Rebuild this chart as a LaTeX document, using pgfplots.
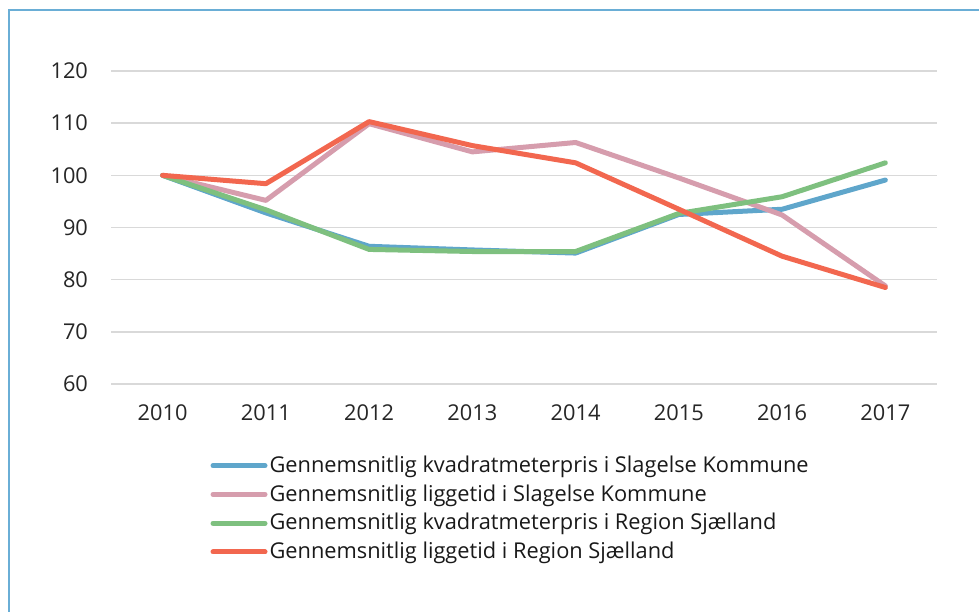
\documentclass[border=0pt]{standalone}
\usepackage{pgfplots}
\pgfplotsset{compat=1.18}
\usepackage{fontspec}
\setmainfont{Open Sans}

\definecolor{cBlue}{HTML}{5FA6CB}
\definecolor{cPink}{HTML}{D69DAD}
\definecolor{cGreen}{HTML}{7EC07F}
\definecolor{cRed}{HTML}{F2674F}
\definecolor{cGrid}{HTML}{D9D9D9}
\definecolor{cFrame}{HTML}{6AAED6}

\begin{document}
\begin{tikzpicture}[x=1pt,y=1pt]
\path[use as bounding box] (0,0) rectangle (489.5,305.5);
\draw[cFrame, line width=1pt] (4.5,-10) -- (4.5,300.5) -- (500,300.5);

\begin{axis}[
    at={(55.5pt,113.5pt)},
    anchor=south west,
    scale only axis,
    width=413pt,
    height=156.5pt,
    xmin=2009.5, xmax=2017.5,
    ymin=60, ymax=120,
    xtick={2010,...,2017},
    ytick={60,70,...,120},
    xticklabel style={/pgf/number format/1000 sep={}, yshift=-7pt},
    yticklabel style={xshift=-8pt},
    /pgf/number format/assume math mode=true,
    tick label style={font=\fontsize{10.9}{13}\selectfont, text=black!85},
    axis line style={draw=none},
    major tick length=0pt,
    ymajorgrids,
    grid style={cGrid, line width=0.8pt},
    every axis plot/.append style={line width=2.5pt, line join=round, line cap=round},
    legend style={
        at={(0.12,-0.222)}, anchor=north west,
        draw=none, fill=none, inner sep=0pt,
        font=\fontsize{10.9}{13}\selectfont,
        row sep=2.6pt,
        nodes={inner sep=1pt, text=black!90},
    },
    legend cell align=left,
    legend image code/.code={\draw[#1, line cap=round] (0pt,0pt) -- (26pt,0pt);},
]
\addplot[cBlue] coordinates {
    (2010,100) (2011,92.8) (2012,86.4) (2013,85.7) (2014,85.1) (2015,92.5) (2016,93.5) (2017,99.1)
};
\addplot[cPink] coordinates {
    (2010,100) (2011,95.2) (2012,109.9) (2013,104.5) (2014,106.3) (2015,99.5) (2016,92.4) (2017,78.8)
};
\addplot[cGreen] coordinates {
    (2010,100) (2011,93.4) (2012,85.8) (2013,85.4) (2014,85.4) (2015,92.7) (2016,95.9) (2017,102.4)
};
\addplot[cRed] coordinates {
    (2010,100) (2011,98.4) (2012,110.3) (2013,105.7) (2014,102.4) (2015,93.5) (2016,84.5) (2017,78.5)
};
\legend{Gennemsnitlig kvadratmeterpris i Slagelse Kommune,
        Gennemsnitlig liggetid i Slagelse Kommune,
        Gennemsnitlig kvadratmeterpris i Region Sjælland,
        Gennemsnitlig liggetid i Region Sjælland}
\end{axis}
\end{tikzpicture}
\end{document}
